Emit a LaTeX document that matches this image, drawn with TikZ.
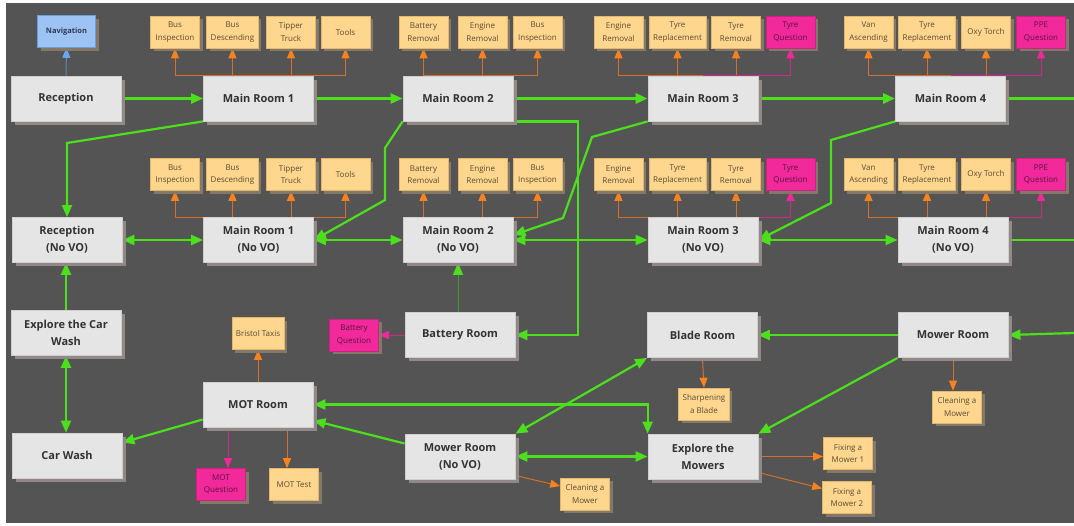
\documentclass[tikz,border=0pt]{standalone}
\usepackage{fontspec}
\setmainfont{Open Sans}
\usetikzlibrary{calc}
\usetikzlibrary{arrows.meta}
\usetikzlibrary{shadows}
\definecolor{canvasgray}{HTML}{545454}
\definecolor{roomfill}{HTML}{E6E5E5}
\definecolor{roomborder}{HTML}{D0CECE}
\definecolor{roomshade}{HTML}{918888}
\definecolor{roomtext}{HTML}{333333}
\definecolor{taskfill}{HTML}{FED68E}
\definecolor{taskborder}{HTML}{E5B66B}
\definecolor{taskshade}{HTML}{837968}
\definecolor{tasktext}{HTML}{5B4A32}
\definecolor{questfill}{HTML}{F2299B}
\definecolor{questborder}{HTML}{D21F84}
\definecolor{questtext}{HTML}{5E1040}
\definecolor{navfill}{HTML}{9DC3F4}
\definecolor{navborder}{HTML}{6E9ED8}
\definecolor{navtext}{HTML}{2E3A4C}
\definecolor{flowgreen}{HTML}{4CE01C}
\definecolor{darkflow}{HTML}{3F9A3A}
\definecolor{orangetip}{HTML}{F7821F}
\definecolor{orangeline}{HTML}{D2702C}
\definecolor{pinktip}{HTML}{F0289A}
\definecolor{pinkline}{HTML}{CC2A86}
\definecolor{bluetip}{HTML}{6EA6EA}
\definecolor{blueline}{HTML}{5E89B8}
\tikzstyle{roomnode} = [draw=roomborder, line width=0.8pt, fill=roomfill, text=roomtext, minimum width=110pt, minimum height=45pt, align=center, font=\fontsize{11}{17}\selectfont\bfseries, drop shadow={shadow xshift=3.5pt, shadow yshift=-3.5pt, fill=roomshade, opacity=1}]
\tikzstyle{smallnode} = [line width=0.6pt, minimum width=49pt, minimum height=32pt, inner xsep=4pt, align=center, font=\fontsize{8}{12.5}\selectfont, drop shadow={shadow xshift=3pt, shadow yshift=-3pt, fill=taskshade, opacity=1}]
\tikzstyle{tasknode} = [smallnode, draw=taskborder, fill=taskfill, text=tasktext]
\tikzstyle{questnode} = [smallnode, draw=questborder, fill=questfill, text=questtext]
\tikzstyle{navnode} = [smallnode, draw=navborder, fill=navfill, text=navtext, minimum width=58pt, font=\fontsize{7.5}{12}\selectfont\bfseries]
\tikzstyle{flow} = [draw=flowgreen, line width=2.2pt, -{Triangle[length=12pt,width=10pt]}]
\tikzstyle{flowthick} = [flow, line width=3pt]
\tikzstyle{flowboth} = [draw=flowgreen, line width=2.2pt, {Triangle[length=12pt,width=10pt]}-{Triangle[length=12pt,width=10pt]}]
\tikzstyle{flowline} = [draw=flowgreen, line width=2.2pt]
\tikzstyle{batterylink} = [draw=darkflow, line width=0.9pt, -{Triangle[length=12pt,width=10pt,color=flowgreen]}]
\tikzstyle{taskarrow} = [draw=orangeline, line width=1pt, -{Triangle[length=10pt,width=8pt,color=orangetip]}]
\tikzstyle{questarrow} = [draw=pinkline, line width=1pt, -{Triangle[length=10pt,width=8pt,color=pinktip]}]
\tikzstyle{navarrow} = [draw=blueline, line width=1pt, -{Triangle[length=10pt,width=8pt,color=bluetip]}]
\pgfdeclarelayer{bg}
\pgfdeclarelayer{edges}
\pgfsetlayers{bg,edges,main}

\begin{document}
\begin{tikzpicture}[x=1pt,y=-1pt]
    \useasboundingbox (0,0) rectangle (1074,525);
    \begin{pgfonlayer}{bg}
        \fill[canvasgray] (6,3) rectangle (1074,523);
    \end{pgfonlayer}

    % main rooms
    \node[roomnode] (rec) at (66,98.5) {Reception};
    \node[roomnode] (mr1) at (258.5,98.5) {Main Room 1};
    \node[roomnode] (mr2) at ($(mr1)+(199.5,0)$) {Main Room 2};
    \node[roomnode] (mr3) at ($(mr2)+(245,0)$) {Main Room 3};
    \node[roomnode] (mr4) at ($(mr3)+(247.5,0)$) {Main Room 4};
    \node[navnode] (nav) at ($(rec)+(0.5,-67)$) {Navigation};

    % tasks of the main rooms
    \node[tasknode] (mr1_bus_insp) at ($(mr1)+(-83.5,-66.5)$) {Bus\\Inspection};
    \node[tasknode] (mr1_bus_desc) at ($(mr1)+(-26,-66.5)$) {Bus\\Descending};
    \node[tasknode] (mr1_tipper) at ($(mr1)+(32.5,-66.5)$) {Tipper\\Truck};
    \node[tasknode] (mr1_tools) at ($(mr1)+(87,-66.5)$) {Tools};
    \node[tasknode] (mr2_batt_rem) at ($(mr2)+(-34.5,-66.5)$) {Battery\\Removal};
    \node[tasknode] (mr2_eng_rem) at ($(mr2)+(24.5,-66.5)$) {Engine\\Removal};
    \node[tasknode] (mr2_bus_insp) at ($(mr2)+(79.5,-66.5)$) {Bus\\Inspection};
    \node[tasknode] (mr3_eng_rem) at ($(mr3)+(-84.5,-66.5)$) {Engine\\Removal};
    \node[tasknode] (mr3_tyre_rep) at ($(mr3)+(-25.5,-66.5)$) {Tyre\\Replacement};
    \node[tasknode] (mr3_tyre_rem) at ($(mr3)+(33,-66.5)$) {Tyre\\Removal};
    \node[questnode] (mr3_tyre_q) at ($(mr3)+(87.5,-66.5)$) {Tyre\\Question};
    \node[tasknode] (mr4_van) at ($(mr4)+(-82,-66.5)$) {Van\\Ascending};
    \node[tasknode] (mr4_tyre_rep) at ($(mr4)+(-23.5,-66.5)$) {Tyre\\Replacement};
    \node[tasknode] (mr4_oxy) at ($(mr4)+(35.5,-66.5)$) {Oxy Torch};
    \node[questnode] (mr4_ppe_q) at ($(mr4)+(90.5,-66.5)$) {PPE\\Question};

    % rooms without voice over
    \node[roomnode] (rec_novo) at (67,240) {Reception\\(No VO)};
    \node[roomnode] (mr1_novo) at ($(mr1)+(0,141.5)$) {Main Room 1\\(No VO)};
    \node[roomnode] (mr2_novo) at ($(mr2)+(0,141.5)$) {Main Room 2\\(No VO)};
    \node[roomnode] (mr3_novo) at ($(mr3)+(0,141.5)$) {Main Room 3\\(No VO)};
    \node[roomnode] (mr4_novo) at ($(mr4)+(2.5,141.5)$) {Main Room 4\\(No VO)};

    \node[tasknode] (mr1n_bus_insp) at ($(mr1_bus_insp)+(0,142.5)$) {Bus\\Inspection};
    \node[tasknode] (mr1n_bus_desc) at ($(mr1_bus_desc)+(0,142.5)$) {Bus\\Descending};
    \node[tasknode] (mr1n_tipper) at ($(mr1_tipper)+(0,142.5)$) {Tipper\\Truck};
    \node[tasknode] (mr1n_tools) at ($(mr1_tools)+(0,142.5)$) {Tools};
    \node[tasknode] (mr2n_batt_rem) at ($(mr2_batt_rem)+(0,142.5)$) {Battery\\Removal};
    \node[tasknode] (mr2n_eng_rem) at ($(mr2_eng_rem)+(0,142.5)$) {Engine\\Removal};
    \node[tasknode] (mr2n_bus_insp) at ($(mr2_bus_insp)+(0,142.5)$) {Bus\\Inspection};
    \node[tasknode] (mr3n_eng_rem) at ($(mr3_eng_rem)+(0,142.5)$) {Engine\\Removal};
    \node[tasknode] (mr3n_tyre_rep) at ($(mr3_tyre_rep)+(0,142.5)$) {Tyre\\Replacement};
    \node[tasknode] (mr3n_tyre_rem) at ($(mr3_tyre_rem)+(0,142.5)$) {Tyre\\Removal};
    \node[questnode] (mr3n_tyre_q) at ($(mr3_tyre_q)+(0,142.5)$) {Tyre\\Question};
    \node[tasknode] (mr4n_van) at ($(mr4_van)+(0,142.5)$) {Van\\Ascending};
    \node[tasknode] (mr4n_tyre_rep) at ($(mr4_tyre_rep)+(0,142.5)$) {Tyre\\Replacement};
    \node[tasknode] (mr4n_oxy) at ($(mr4_oxy)+(0,142.5)$) {Oxy Torch};
    \node[questnode] (mr4n_ppe_q) at ($(mr4_ppe_q)+(0,142.5)$) {PPE\\Question};

    % lower rooms
    \node[roomnode] (car_explore) at (66,333) {Explore the Car\\Wash};
    \node[roomnode] (car_wash) at (67,455.5) {Car Wash};
    \node[roomnode] (mot) at (258,404.5) {MOT Room};
    \node[roomnode] (batt_room) at (460,335) {Battery Room};
    \node[roomnode] (blade) at (702.5,335) {Blade Room};
    \node[roomnode] (mower) at (953,335) {Mower Room};
    \node[roomnode] (mower_novo) at (460,456.5) {Mower Room\\(No VO)};
    \node[roomnode] (exp_mowers) at (703,456.5) {Explore the\\Mowers};

    \node[tasknode] (bristol) at ($(mot)+(0,-71)$) {Bristol Taxis};
    \node[questnode] (mot_q) at ($(mot)+(-37,80)$) {MOT\\Question};
    \node[tasknode] (mot_test) at ($(mot)+(36,80)$) {MOT Test};
    \node[questnode] (batt_q) at ($(batt_room)+(-106,0)$) {Battery\\Question};
    \node[tasknode] (sharpen) at ($(blade)+(1.5,69)$) {Sharpening\\a Blade};
    \node[tasknode] (clean_r) at ($(mower)+(4,72)$) {Cleaning a\\Mower};
    \node[tasknode] (clean_l) at ($(mower_novo)+(125,37.5)$) {Cleaning a\\Mower};
    \node[tasknode] (fix1) at ($(exp_mowers)+(145,-3)$) {Fixing a\\Mower 1};
    \node[tasknode] (fix2) at ($(exp_mowers)+(144,41)$) {Fixing a\\Mower 2};

    \coordinate (exit_top) at (1074,98.5);
    \coordinate (exit_mid) at (1074,240);
    \coordinate (entry_low) at (1074,333);

    \begin{pgfonlayer}{edges}
        % task links
        \draw[navarrow] (rec.north) -- (nav.south);
        \draw[taskarrow] (mr1.north) -| (mr1_bus_insp.south);
        \draw[taskarrow] (mr1.north) -| (mr1_bus_desc.south);
        \draw[taskarrow] (mr1.north) -| (mr1_tipper.south);
        \draw[taskarrow] (mr1.north) -| (mr1_tools.south);
        \draw[taskarrow] (mr2.north) -| (mr2_batt_rem.south);
        \draw[taskarrow] (mr2.north) -| (mr2_eng_rem.south);
        \draw[taskarrow] (mr2.north) -| (mr2_bus_insp.south);
        \draw[taskarrow] (mr3.north) -| (mr3_eng_rem.south);
        \draw[taskarrow] (mr3.north) -| (mr3_tyre_rep.south);
        \draw[taskarrow] (mr3.north) -| (mr3_tyre_rem.south);
        \draw[questarrow] (mr3.north) -| (mr3_tyre_q.south);
        \draw[taskarrow] (mr4.north) -| (mr4_van.south);
        \draw[taskarrow] (mr4.north) -| (mr4_tyre_rep.south);
        \draw[taskarrow] (mr4.north) -| (mr4_oxy.south);
        \draw[questarrow] (mr4.north) -| (mr4_ppe_q.south);

        \draw[taskarrow] (mr1_novo.north) -| (mr1n_bus_insp.south);
        \draw[taskarrow] (mr1_novo.north) -| (mr1n_bus_desc.south);
        \draw[taskarrow] (mr1_novo.north) -| (mr1n_tipper.south);
        \draw[taskarrow] (mr1_novo.north) -| (mr1n_tools.south);
        \draw[taskarrow] (mr2_novo.north) -| (mr2n_batt_rem.south);
        \draw[taskarrow] (mr2_novo.north) -| (mr2n_eng_rem.south);
        \draw[taskarrow] (mr2_novo.north) -| (mr2n_bus_insp.south);
        \draw[taskarrow] (mr3_novo.north) -| (mr3n_eng_rem.south);
        \draw[taskarrow] (mr3_novo.north) -| (mr3n_tyre_rep.south);
        \draw[taskarrow] (mr3_novo.north) -| (mr3n_tyre_rem.south);
        \draw[questarrow] (mr3_novo.north) -| (mr3n_tyre_q.south);
        \draw[taskarrow] (mr4_novo.north) -| (mr4n_van.south);
        \draw[taskarrow] (mr4_novo.north) -| (mr4n_tyre_rep.south);
        \draw[taskarrow] (mr4_novo.north) -| (mr4n_oxy.south);
        \draw[questarrow] (mr4_novo.north) -| (mr4n_ppe_q.south);

        \draw[taskarrow] (mot.north) -- (bristol.south);
        \draw[questarrow] ([xshift=7pt]mot_q.north |- mot.south) -- ([xshift=7pt]mot_q.north);
        \draw[taskarrow] ([xshift=-7pt]mot_test.north |- mot.south) -- ([xshift=-7pt]mot_test.north);
        \draw[questarrow] (batt_room.west) -- (batt_q.east);
        \draw[taskarrow] (blade.south) -- (sharpen.north);
        \draw[taskarrow] (mower.south) -- (mower.south |- clean_r.north);
        \draw[taskarrow] ([yshift=-19pt]mower_novo.east) -- ([yshift=8pt]clean_l.west);
        \draw[taskarrow] (exp_mowers.east) -- (exp_mowers.east -| fix1.west);
        \draw[taskarrow] ([yshift=-16pt]exp_mowers.east) -- ([yshift=9pt]fix2.west);

        % room to room
        \draw[flow] (rec) -- (mr1);
        \draw[flow] (mr1) -- (mr2);
        \draw[flowthick] (mr2) -- (mr3);
        \draw[flowthick] (mr3) -- (mr4);
        \draw[flowline] (mr4.east) -- (exit_top);
        \draw[flow] (mr1.south west) -- (rec_novo.north |- 0,143) -- (rec_novo.north);
        \draw[flow] (mr2.south west) -- (385,148) -- (385,200) -- (mr1_novo.east);
        \draw[flow] (mr2.south east) -| (578,335) -- (batt_room.east);
        \draw[flow] (mr3.south west) -- (592,137) -- (563,218) -- ([yshift=5pt]mr2_novo.east);
        \draw[flow] (mr4.south west) -- (831,140) -- (831,203) -- (mr3_novo.east);

        \draw[flowboth] (rec_novo) -- (mr1_novo);
        \draw[flowboth] (mr1_novo) -- (mr2_novo);
        \draw[flowboth] (mr2_novo) -- (mr3_novo);
        \draw[flowboth] (mr3_novo.east) -- (mr3_novo.east -| mr4_novo.west);
        \draw[flowline] (mr4_novo.east) -- (exit_mid);
        \draw[batterylink] (batt_room.north) -- (mr2_novo.south |- batt_room.north) -- (mr2_novo.south);

        \draw[flow] (car_explore.north) -- (rec_novo.south -| car_explore.north);
        \draw[flowboth] (car_explore.south) -- (car_explore.south |- car_wash.north);
        \draw[flow] ([yshift=-15pt]mot.west) -- ([yshift=13pt]car_wash.east);
        \draw[flowboth] (mot.east) -| (exp_mowers.north west);
        \draw[flow] ([yshift=13pt]mower_novo.west) -- ([yshift=-16pt]mot.east);
        \draw[flowboth] (mower_novo.north east) -- (blade.south west);
        \draw[flowboth] (mower_novo) -- (exp_mowers);
        \draw[flow] (mower.west) -- (blade.east);
        \draw[flow] (entry_low) -- (mower.east);
        \draw[flow] (mower.south west) -- (exp_mowers.north east);
    \end{pgfonlayer}
\end{tikzpicture}
\end{document}
